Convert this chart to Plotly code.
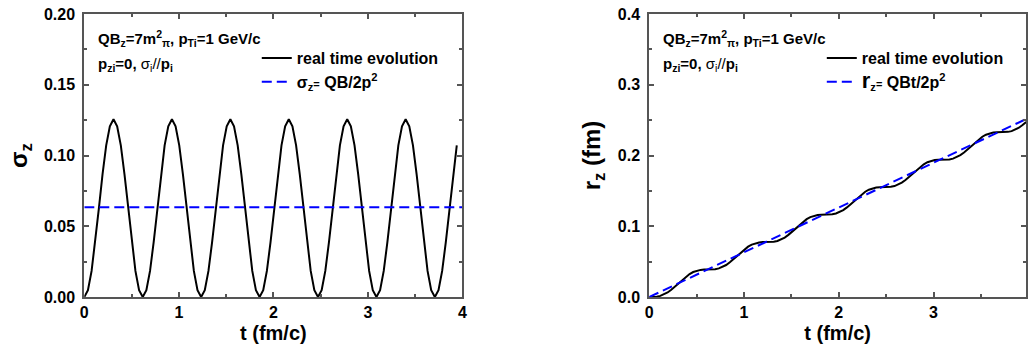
import plotly.graph_objects as go

# time grid (fm/c)
t = [0, 0.0386, 0.0773, 0.1159, 0.1545, 0.1931, 0.2318, 0.2704, 0.3090, 0.3476, 0.3863, 0.4249, 0.4635, 0.5021, 0.5408, 0.5794,
     0.618, 0.6566, 0.6953, 0.7339, 0.7725, 0.8111, 0.8498, 0.8884, 0.927, 0.9656, 1.0043, 1.0429, 1.0815, 1.1201, 1.1588, 1.1974,
     1.236, 1.2746, 1.3133, 1.3519, 1.3905, 1.4291, 1.4678, 1.5064, 1.545, 1.5836, 1.6223, 1.6609, 1.6995, 1.7381, 1.7768, 1.8154,
     1.854, 1.8926, 1.9313, 1.9699, 2.0085, 2.0471, 2.0858, 2.1244, 2.163, 2.2016, 2.2403, 2.2789, 2.3175, 2.3561, 2.3948, 2.4334,
     2.472, 2.5106, 2.5493, 2.5879, 2.6265, 2.6651, 2.7038, 2.7424, 2.781, 2.8196, 2.8583, 2.8969, 2.9355, 2.9741, 3.0128, 3.0514,
     3.09, 3.1286, 3.1673, 3.2059, 3.2445, 3.2831, 3.3218, 3.3604, 3.399, 3.4376, 3.4763, 3.5149, 3.5535, 3.5921, 3.6308, 3.6694,
     3.708, 3.7466, 3.7853, 3.8239, 3.8625, 3.9011, 3.9398, 3.9784]

# sigma_z, real time evolution
sigma_z = [0, 0.0048, 0.0184, 0.0388, 0.0628, 0.0868, 0.1072, 0.1206, 0.1256, 0.1206, 0.1072, 0.0868, 0.0628, 0.0388, 0.0184, 0.0048,
           0, 0.0048, 0.0184, 0.0388, 0.0628, 0.0868, 0.1072, 0.1206, 0.1256, 0.1206, 0.1072, 0.0868, 0.0628, 0.0388, 0.0184, 0.0048,
           0, 0.0048, 0.0184, 0.0388, 0.0628, 0.0868, 0.1072, 0.1206, 0.1256, 0.1206, 0.1072, 0.0868, 0.0628, 0.0388, 0.0184, 0.0048,
           0, 0.0048, 0.0184, 0.0388, 0.0628, 0.0868, 0.1072, 0.1206, 0.1256, 0.1206, 0.1072, 0.0868, 0.0628, 0.0388, 0.0184, 0.0048,
           0, 0.0048, 0.0184, 0.0388, 0.0628, 0.0868, 0.1072, 0.1206, 0.1256, 0.1206, 0.1072, 0.0868, 0.0628, 0.0388, 0.0184, 0.0048,
           0, 0.0048, 0.0184, 0.0388, 0.0628, 0.0868, 0.1072, 0.1206, 0.1256, 0.1206, 0.1072, 0.0868, 0.0628, 0.0388, 0.0184, 0.0048,
           0, 0.0048, 0.0184, 0.0388, 0.0628, 0.0868, 0.1072]

# r_z (fm), real time evolution
r_z = [0, 0.0001, 0.0005, 0.0016, 0.0035, 0.0064, 0.0102, 0.0146, 0.0194, 0.0242, 0.0286, 0.0324, 0.0353, 0.0372, 0.0383, 0.0388,
       0.0388, 0.0389, 0.0393, 0.0404, 0.0423, 0.0452, 0.0490, 0.0534, 0.0582, 0.0630, 0.0674, 0.0712, 0.0741, 0.0760, 0.0771, 0.0776,
       0.0776, 0.0777, 0.0781, 0.0792, 0.0811, 0.0840, 0.0878, 0.0922, 0.0970, 0.1018, 0.1063, 0.1100, 0.1129, 0.1149, 0.1159, 0.1164,
       0.1164, 0.1165, 0.1169, 0.1180, 0.1199, 0.1228, 0.1266, 0.1310, 0.1358, 0.1406, 0.1451, 0.1488, 0.1517, 0.1537, 0.1548, 0.1552,
       0.1552, 0.1553, 0.1557, 0.1568, 0.1588, 0.1617, 0.1654, 0.1699, 0.1747, 0.1794, 0.1839, 0.1876, 0.1905, 0.1925, 0.1936, 0.1940,
       0.1941, 0.1941, 0.1945, 0.1956, 0.1976, 0.2005, 0.2042, 0.2087, 0.2135, 0.2183, 0.2227, 0.2265, 0.2294, 0.2313, 0.2324, 0.2328,
       0.2329, 0.2329, 0.2334, 0.2344, 0.2364, 0.2393, 0.2430, 0.2475]

# analytic estimates
t_line = [0, 4]
sigma_est = [0.0635, 0.0635]
r_est = [0, 0.253]

W, H = 1031, 350
FONT = "Arial, 'Liberation Sans', sans-serif"
AXC = "#555555"

fig = go.Figure()
fig.add_trace(go.Scatter(x=t[:len(sigma_z)], y=sigma_z, mode="lines", name="real time evolution",
                         line=dict(color="black", width=2), xaxis="x", yaxis="y", legend="legend"))
fig.add_trace(go.Scatter(x=t_line, y=sigma_est, mode="lines",
                         name="σ<sub>z</sub><span style='font-size:11px'>=</span> QB/2p<sup>2</sup>",
                         line=dict(color="#0000ff", width=2, dash="10px,5px"), xaxis="x", yaxis="y", legend="legend"))
fig.add_trace(go.Scatter(x=t, y=r_z, mode="lines", name="real time evolution",
                         line=dict(color="black", width=2), xaxis="x2", yaxis="y2", legend="legend2"))
fig.add_trace(go.Scatter(x=t_line, y=r_est, mode="lines",
                         name="<span style='font-size:22px'>r</span><sub>z</sub><span style='font-size:11px'>=</span> QBt/2p<sup>2</sup>",
                         line=dict(color="#0000ff", width=2, dash="10px,5px"), xaxis="x2", yaxis="y2", legend="legend2"))

def xax(domain, rng, anchor):
    return dict(domain=domain, range=rng, anchor=anchor, dtick=1, tick0=0,
                showline=True, linecolor=AXC, linewidth=2, mirror="ticks",
                ticks="inside", ticklen=5, tickwidth=1.5, tickcolor=AXC,
                minor=dict(ticks="inside", dtick=0.5, ticklen=3, tickwidth=1.5, tickcolor=AXC),
                showgrid=False, zeroline=False,
                tickfont=dict(family=FONT, size=16, color="black", weight="bold"),
                title=dict(text="t (fm/c)", font=dict(family=FONT, size=20, color="black", weight="bold"), standoff=6))

def yax(rng, dt, fmt, anchor, title, tsize):
    return dict(domain=[0, 1], range=rng, anchor=anchor, dtick=dt, tick0=0, tickformat=fmt,
                showline=True, linecolor=AXC, linewidth=2, mirror="ticks",
                ticks="inside", ticklen=5, tickwidth=1.5, tickcolor=AXC,
                minor=dict(ticks="inside", dtick=dt / 2, ticklen=3, tickwidth=1.5, tickcolor=AXC),
                showgrid=False, zeroline=False, ticklabelstandoff=4,
                tickfont=dict(family=FONT, size=16, color="black", weight="bold"),
                title=dict(text=title, font=dict(family=FONT, size=tsize, color="black", weight="bold"), standoff=10))

left_dom = [81 / W, 462.5 / W]
right_dom = [651 / W, 1.0]
legend_style = dict(font=dict(family=FONT, size=16, color="black", weight="bold"),
                    bgcolor="rgba(0,0,0,0)", borderwidth=0, xanchor="left", yanchor="top",
                    itemwidth=30, tracegroupgap=0)

fig.update_layout(
    width=W, height=H, margin=dict(l=0, r=0, t=14, b=53),
    paper_bgcolor="white", plot_bgcolor="white",
    xaxis=xax(left_dom, [0, 4], "y"),
    yaxis=yax([0, 0.2], 0.05, ".2f", "x", "σ<sub>z</sub>", 24),
    xaxis2=xax(right_dom, [0, 3.976], "y2"),
    yaxis2=yax([0, 0.4], 0.1, ".1f", "x2", "r<sub>z</sub> (fm)", 24),
    legend=dict(x=255 / W, y=1 - 27 / 283, **legend_style),
    legend2=dict(x=825 / W, y=1 - 27 / 283, **legend_style),
    showlegend=True,
)

# parameter labels inside each panel
line1 = "QB<sub>z</sub>=7m<sup>2</sup><sub>π</sub>, p<sub>Ti</sub>=1 GeV/c"
line2 = "p<sub>zi</sub>=0, <span style='font-weight:normal'>σ<sub>i</sub>//</span>p<sub>i</sub>"
for xr, yr in (("x domain", "y domain"), ("x2 domain", "y2 domain")):
    fig.add_annotation(text=line1, xref=xr, yref=yr, x=0.03, y=(297 - 38) / 283, xanchor="left", yanchor="middle",
                       showarrow=False, font=dict(family=FONT, size=15, color="black", weight="bold"))
    fig.add_annotation(text=line2, xref=xr, yref=yr, x=0.03, y=(297 - 65) / 283, xanchor="left", yanchor="middle",
                       showarrow=False, font=dict(family=FONT, size=15, color="black", weight="bold"))

fig.write_html("out.html")
